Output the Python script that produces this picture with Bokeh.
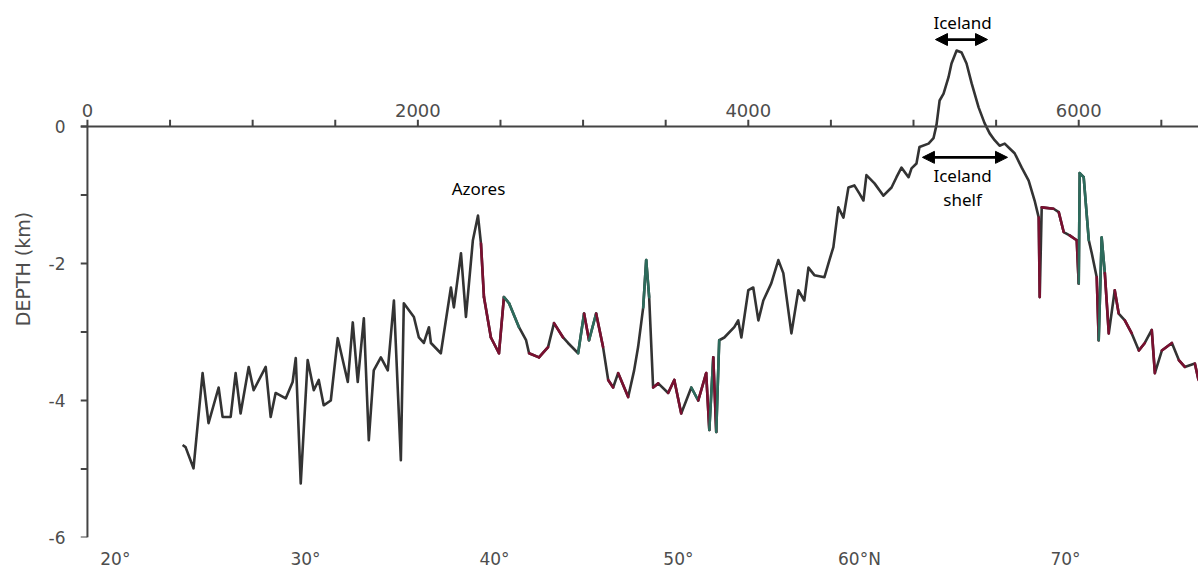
from bokeh.plotting import figure
from bokeh.models import Range1d, LinearAxis, FixedTicker, Span, Arrow, NormalHead
from bokeh.core.properties import value
from bokeh.embed import file_html
from bokeh.resources import INLINE

# ---- data: bathymetric profile along the track (distance km, depth km) ----
dist_km = [
    576, 594, 642, 697, 733, 794, 818, 867, 897, 927,
    976, 1006, 1079, 1109, 1139, 1200, 1242, 1261, 1291, 1333,
    1370, 1400, 1430, 1473, 1515, 1576, 1606, 1636, 1673, 1703,
    1733, 1776, 1818, 1855, 1897, 1915, 1976, 2006, 2036, 2067,
    2079, 2139, 2200, 2218, 2261, 2291, 2333, 2364, 2382, 2400,
    2442, 2491, 2521, 2552, 2612, 2655, 2673, 2733, 2788, 2824,
    2879, 2909, 2970, 3006, 3036, 3079, 3121, 3152, 3182, 3212,
    3273, 3309, 3333, 3364, 3382, 3400, 3424, 3455, 3515, 3552,
    3594, 3655, 3697, 3745, 3764, 3788, 3806, 3824, 3855, 3915,
    3939, 3958, 4000, 4030, 4061, 4091, 4139, 4182, 4212, 4261,
    4303, 4339, 4364, 4400, 4461, 4491, 4515, 4545, 4576, 4606,
    4642, 4673, 4697, 4715, 4764, 4818, 4867, 4897, 4927, 4970,
    4988, 5018, 5036, 5091, 5121, 5139, 5158, 5182, 5212, 5230,
    5261, 5291, 5321, 5352, 5394, 5430, 5461, 5491, 5521, 5552,
    5582, 5612, 5655, 5697, 5733, 5758, 5764, 5776, 5848, 5879,
    5909, 5945, 5988, 6000, 6006, 6030, 6061, 6079, 6109, 6121,
    6139, 6158, 6182, 6218, 6242, 6279, 6321, 6364, 6400, 6442,
    6461, 6503, 6564, 6606, 6642, 6703, 6725,
]
depth_km = [
    -4.65, -4.68, -4.99, -3.60, -4.33, -3.81, -4.24, -4.24, -3.60, -4.19,
    -3.51, -3.85, -3.51, -4.24, -3.89, -3.97, -3.73, -3.38, -5.21, -3.41,
    -3.85, -3.70, -4.07, -4.00, -3.09, -3.73, -2.86, -3.73, -2.80, -4.58,
    -3.56, -3.37, -3.56, -2.54, -4.87, -2.58, -2.78, -3.08, -3.16, -2.93,
    -3.16, -3.31, -2.35, -2.64, -1.85, -2.78, -1.66, -1.30, -1.71, -2.49,
    -3.08, -3.31, -2.49, -2.58, -2.93, -3.12, -3.31, -3.37, -3.22, -2.87,
    -3.08, -3.16, -3.31, -2.73, -3.12, -2.73, -3.22, -3.70, -3.81, -3.60,
    -3.95, -3.56, -3.22, -2.64, -1.95, -2.49, -3.81, -3.75, -3.89, -3.70,
    -4.19, -3.81, -4.00, -3.60, -4.43, -3.37, -4.46, -3.12, -3.08, -2.93,
    -2.83, -3.08, -2.39, -2.35, -2.83, -2.54, -2.29, -1.95, -2.14, -3.02,
    -2.39, -2.54, -2.06, -2.17, -2.20, -1.95, -1.76, -1.18, -1.33, -0.89,
    -0.86, -0.98, -1.08, -0.71, -0.83, -1.01, -0.89, -0.74, -0.60, -0.74,
    -0.61, -0.54, -0.30, -0.25, -0.17, 0.02, 0.38, 0.48, 0.72, 0.92,
    1.11, 1.08, 0.92, 0.63, 0.28, 0.05, -0.10, -0.20, -0.28, -0.25,
    -0.32, -0.39, -0.60, -0.79, -1.08, -1.33, -2.49, -1.18, -1.20, -1.25,
    -1.54, -1.59, -1.66, -2.29, -0.68, -0.74, -1.66, -1.85, -2.20, -3.12,
    -1.62, -2.14, -3.02, -2.39, -2.73, -2.83, -3.02, -3.27, -3.16, -2.97,
    -3.60, -3.27, -3.16, -3.41, -3.51, -3.46, -3.70,
]
# survey track of each point: k = grey/black, r = red, g = green
track = list(
    "kkkkkkkkkk" "kkkkkkkkkk" "kkkkkkkkkk" "kkkkkkkkkk" "kkkkkkkkkr"
    "rrrggkkrrk" "rkkgrgrkrk" "rkkkggkrkr" "rkgrrgrgkk" "kkkkkkkkkk"
    "kkkkkkkkkk" "kkkkkkkkkk" "kkkkkkkkkk" "kkkkkkkkkk" "kkkkkkrkrk"
    "rkrrgggkkr" "ggrkrkrkrk" "rkrkrkr"
)

# ---- axes ticks / labels ----
top_ticks_km = list(range(0, 7000, 500))
top_label_km = [0, 2000, 4000, 6000]
top_label_txt = ["0", "2000", "4000", "6000"]
lat_pos_km = [169, 1320, 2464, 3577, 4673, 5920]
lat_labels = ["20°", "30°", "40°", "50°", "60°N", "70°"]
depth_ticks = [0, -1, -2, -3, -4, -5, -6]
depth_labels = ["0", "", "-2", "", "-4", "", "-6"]

# ---- annotations ----
azores_pos = (2367, -0.90)
iceland_pos = (5297, 1.52)
iceland_arrow = (5133, 5448, 1.27)
shelf_arrow = (5054, 5569, -0.45)
shelf_text = (5297, -0.71, -1.06)

GREY = "#333333"
RED = "#7a1030"
GREEN = "#2d6b5c"
AXIS_GREY = "#444444"
TICK_GREY = "#4d4d4d"
FONT = "DejaVu Sans"
ANN_FONT = "Noto Sans"
X_START = -42          # distance range starts a little left of 0 km
TICK_LEN_KM = 42       # length of the depth-axis ticks in distance units
TOP_LABEL_Y = 0.23     # baseline of the distance labels above the zero line

p = figure(
    frame_width=1118, frame_height=537,
    x_range=Range1d(X_START, 6725), y_range=Range1d(-6.0, 1.84),
    x_axis_type=None, y_axis_type=None,
    output_backend="svg", toolbar_location=None,
    min_border_left=80, min_border_right=0, min_border_top=0, min_border_bottom=39,
)
p.outline_line_color = None
p.background_fill_color = "white"
p.border_fill_color = "white"

# left depth axis: only labels from the Bokeh axis; line & ticks drawn at 0 km
yax = LinearAxis(
    ticker=FixedTicker(ticks=depth_ticks, minor_ticks=[]),
    major_label_overrides={t: s for t, s in zip(depth_ticks, depth_labels)},
    axis_label="DEPTH (km)",
)
yax.axis_line_color = None
yax.major_tick_line_color = None
yax.major_tick_out = 0
yax.major_tick_in = 0
yax.minor_tick_line_color = None
yax.major_label_standoff = 15
yax.major_label_text_font = FONT
yax.major_label_text_font_size = "17px"
yax.major_label_text_color = TICK_GREY
yax.axis_label_text_font = FONT
yax.axis_label_text_font_size = "19px"
yax.axis_label_text_font_style = "normal"
yax.axis_label_text_color = TICK_GREY
yax.axis_label_standoff = 12
p.add_layout(yax, "left")

p.segment(x0=[0], y0=[depth_ticks[-1]], x1=[0], y1=[depth_ticks[0]],
          line_color=AXIS_GREY, line_width=2)
p.segment(x0=[0] * len(depth_ticks), y0=depth_ticks,
          x1=[-TICK_LEN_KM] * len(depth_ticks), y1=depth_ticks,
          line_color=AXIS_GREY, line_width=2)

# bottom latitude labels
xax = LinearAxis(
    ticker=FixedTicker(ticks=lat_pos_km, minor_ticks=[]),
    major_label_overrides={t: s for t, s in zip(lat_pos_km, lat_labels)},
)
xax.axis_line_color = None
xax.major_tick_line_color = None
xax.minor_tick_line_color = None
xax.major_tick_out = 0
xax.major_label_standoff = 11
xax.major_label_text_font = FONT
xax.major_label_text_font_size = "17px"
xax.major_label_text_color = TICK_GREY
p.add_layout(xax, "below")

# distance axis along depth zero
p.add_layout(Span(location=0, dimension="width", line_color=AXIS_GREY, line_width=2))
p.segment(x0=top_ticks_km, y0=[0] * len(top_ticks_km), x1=top_ticks_km,
          y1=[0.1] * len(top_ticks_km), line_color=AXIS_GREY, line_width=2)
p.text(x=top_label_km, y=[TOP_LABEL_Y] * len(top_label_km), text=top_label_txt,
       text_align="center", text_baseline="alphabetic",
       text_font=value(FONT), text_font_size="18px", text_color=TICK_GREY)

# profile
p.line(dist_km, depth_km, line_color=GREY, line_width=2.6, line_join="round")
colors = {"r": RED, "g": GREEN}
sx0, sy0, sx1, sy1, sc = [], [], [], [], []
for i in range(1, len(dist_km)):
    t = track[i]
    if t in colors:
        sx0.append(dist_km[i - 1]); sy0.append(depth_km[i - 1])
        sx1.append(dist_km[i]); sy1.append(depth_km[i])
        sc.append(colors[t])
p.segment(x0=sx0, y0=sy0, x1=sx1, y1=sy1, line_color=sc, line_width=2.6, line_cap="round")

# annotations
p.text(x=[azores_pos[0]], y=[azores_pos[1]], text=["Azores"], text_align="center",
       text_baseline="middle", text_font=value(ANN_FONT), text_font_size="17px", text_color="black")
p.text(x=[iceland_pos[0]], y=[iceland_pos[1]], text=["Iceland"], text_align="center",
       text_baseline="middle", text_font=value(ANN_FONT), text_font_size="17px", text_color="black")
p.text(x=[shelf_text[0], shelf_text[0]], y=[shelf_text[1], shelf_text[2]], text=["Iceland", "shelf"],
       text_align="center", text_baseline="middle", text_font=value(ANN_FONT),
       text_font_size="17px", text_color="black")
for (xa, xb, ya) in (iceland_arrow, shelf_arrow):
    p.add_layout(Arrow(
        start=NormalHead(size=12, fill_color="black", line_color="black"),
        end=NormalHead(size=12, fill_color="black", line_color="black"),
        x_start=xa, y_start=ya, x_end=xb, y_end=ya,
        line_color="black", line_width=2.8,
    ))

open("out.html", "w").write(file_html(p, INLINE))
